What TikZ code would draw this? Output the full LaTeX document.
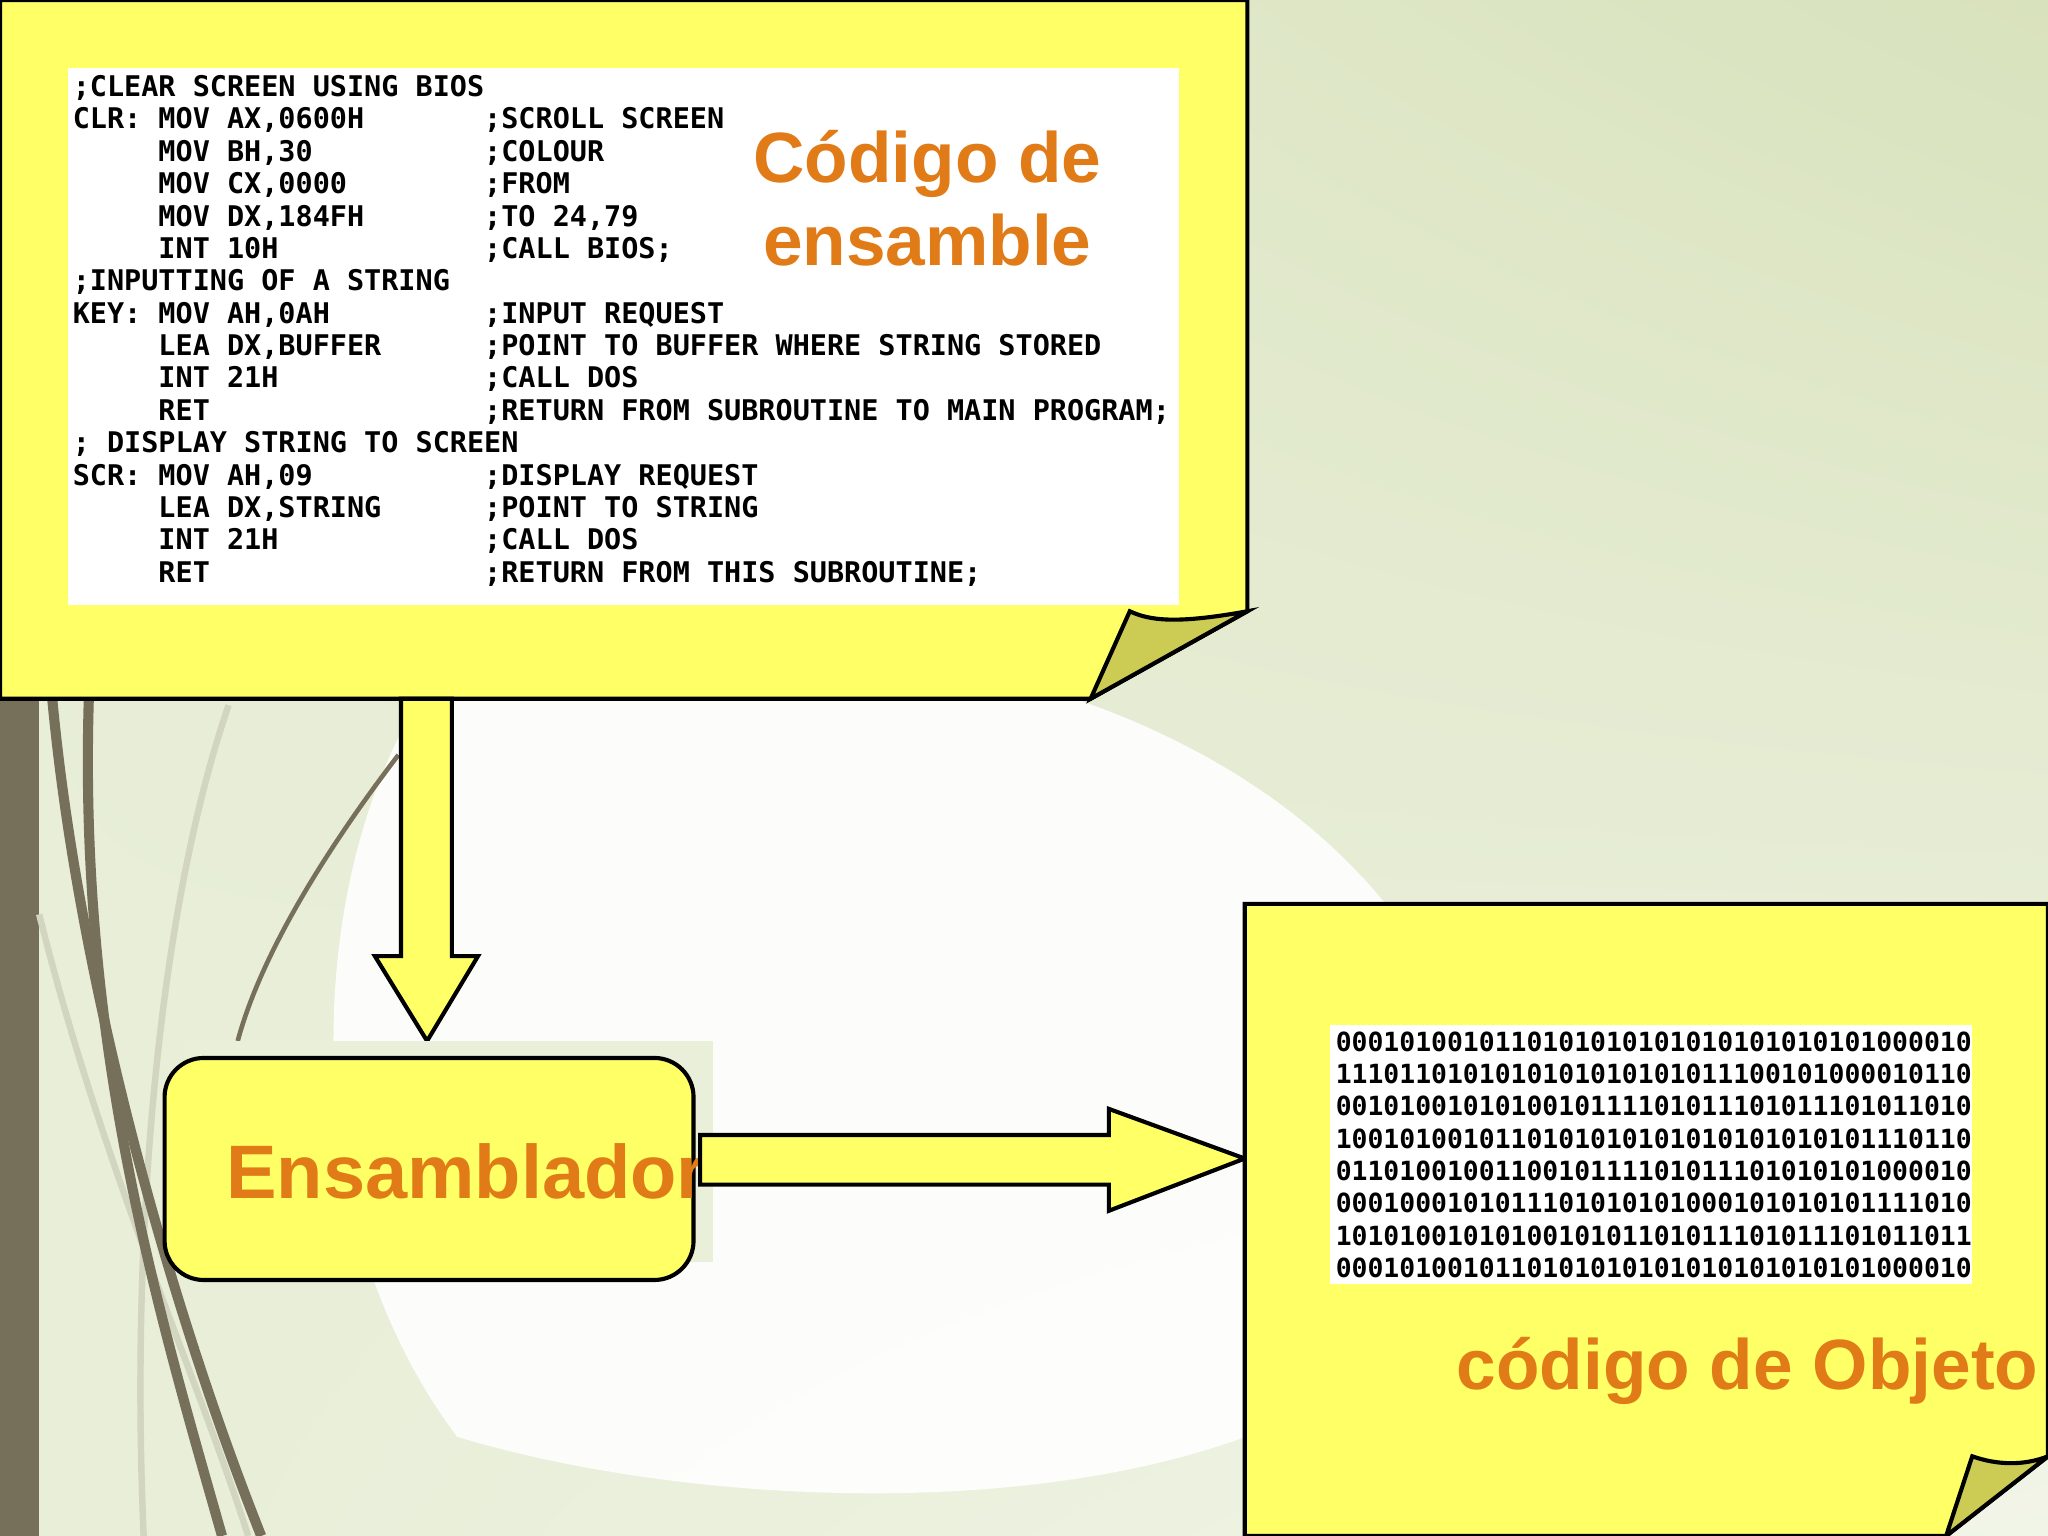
\documentclass[tikz,border=0pt]{standalone}
\usepackage{fontspec}
\usetikzlibrary{shadings}
\setmainfont{Liberation Sans}
\newfontfamily\codefont{DejaVu Sans Mono}
\newcommand{\cc}[1]{\makebox[14.448em][l]{#1}}
\newcommand{\ii}{\hspace*{3.01em}}
\tikzset{
  note/.style={fill=noteY,draw=black,line width=0.9pt},
  fold/.style={fill=foldY,draw=black,line width=0.9pt},
  orangetxt/.style={text=orng,font=\bfseries\fontsize{15.5}{19}\selectfont,align=center},
  codetxt/.style={font=\codefont\bfseries\fontsize{6.2}{7.05}\selectfont,align=left,anchor=north west,inner sep=0pt},
  curveA/.style={draw=olive1,line width=2.2pt},
  curveB/.style={draw=olive2,line width=1.4pt}
}
\definecolor{noteY}{HTML}{FFFF66}
\definecolor{foldY}{HTML}{CCCC55}
\definecolor{orng}{HTML}{E07B17}
\definecolor{olive1}{HTML}{76705A}
\definecolor{olive2}{HTML}{D2D5C0}
\definecolor{bgG}{HTML}{D8E2BC}
\begin{document}
\begin{tikzpicture}[x=0.01cm,y=-0.01cm]
\useasboundingbox (0,0) rectangle (1568,1176);
\shade[upper left=bgG!60!white,upper right=bgG,lower left=bgG!60!white,lower right=bgG!35!white] (0,0) rectangle (1568,1176);
\shade[inner color=white,outer color=white,opacity=0.9,draw=none] (350,500) .. controls (700,450) and (1100,550) .. (1150,900) .. controls (1100,1176) and (600,1176) .. (350,1100) .. controls (200,900) and (250,600) .. (350,500);
% left decoration
\fill[olive1] (0,535) rectangle (30,1176);
\draw[curveB] (30,700) .. controls (80,900) and (150,1050) .. (190,1176);
\draw[curveB] (175,540) .. controls (120,700) and (100,950) .. (110,1176);
\draw[curveA] (40,535) .. controls (60,750) and (130,1000) .. (200,1176);
\draw[curveA] (68,535) .. controls (60,800) and (120,1000) .. (170,1176);
\draw[draw=olive1,line width=1pt] (305,578) .. controls (250,650) and (200,730) .. (182,797);
% top note
\draw[note] (0,0) -- (955,0) -- (955,468) -- (835,535) -- (0,535) -- cycle;
\draw[fold] (835,535) -- (865,468) .. controls (880,475) and (900,478) .. (955,468) -- cycle;
\fill[white] (52,52) rectangle (903,463);
\node[codetxt] (code) at (55,57) {%
;CLEAR SCREEN USING BIOS\\
\cc{CLR: MOV AX,0600H};SCROLL SCREEN\\
\cc{\ii MOV BH,30};COLOUR\\
\cc{\ii MOV CX,0000};FROM\\
\cc{\ii MOV DX,184FH};TO 24,79\\
\cc{\ii INT 10H};CALL BIOS;\\
;INPUTTING OF A STRING\\
\cc{KEY: MOV AH,0AH};INPUT REQUEST\\
\cc{\ii LEA DX,BUFFER};POINT TO BUFFER WHERE STRING STORED\\
\cc{\ii INT 21H};CALL DOS\\
\cc{\ii RET};RETURN FROM SUBROUTINE TO MAIN PROGRAM;\\
; DISPLAY STRING TO SCREEN\\
\cc{SCR: MOV AH,09};DISPLAY REQUEST\\
\cc{\ii LEA DX,STRING};POINT TO STRING\\
\cc{\ii INT 21H};CALL DOS\\
\cc{\ii RET};RETURN FROM THIS SUBROUTINE;};
\node[orangetxt] (t1) at (710,152) {Código de\\[-1pt]ensamble};
% down arrow
\draw[note] (307,535) -- (346,535) -- (346,732) -- (366,732) -- (327,797) -- (287,732) -- (307,732) -- cycle;
% assembler box
\fill[bgG!55!white] (142,797) rectangle (546,966);
\draw[note,rounded corners=0.3cm] (126,810) rectangle (531,980);
\node[orangetxt,font=\bfseries\fontsize{16.5}{20}\selectfont] (ens) at (357,897) {Ensamblador};
% right arrow
\draw[note] (536,869) -- (849,869) -- (849,849) -- (953,887) -- (849,927) -- (849,907) -- (536,907) -- cycle;
% object note
\draw[note] (953,692) -- (1568,692) -- (1568,1115) -- (1490,1176) -- (953,1176) -- cycle;
\draw[fold] (1490,1176) -- (1510,1115) .. controls (1530,1122) and (1550,1122) .. (1568,1115) -- cycle;
\fill[white] (1018,785) rectangle (1510,983);
\node[codetxt,font=\codefont\bfseries\fontsize{5.75}{7.05}\selectfont] (bin) at (1022,789) {%
0001010010110101010101010101010101000010\\
1110110101010101010101011100101000010110\\
0010100101010010111101011101011101011010\\
1001010010110101010101010101010101110110\\
0110100100110010111101011101010101000010\\
0001000101011101010101000101010101111010\\
1010100101010010101101011101011101011011\\
0001010010110101010101010101010101000010};
\node[orangetxt] (t2) at (1338,1050) {código de Objeto};
\end{tikzpicture}
\end{document}
